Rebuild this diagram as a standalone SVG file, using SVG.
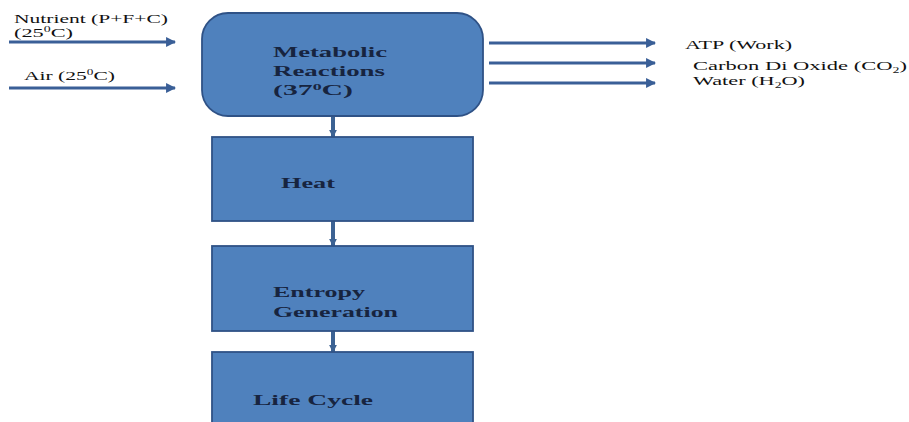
<svg xmlns="http://www.w3.org/2000/svg" width="909" height="422" viewBox="0 0 909 422">
<style>
.box{fill:#4f81bd;stroke:#2f5286;stroke-width:1.8}
.bt{font-family:"Liberation Serif","Times New Roman",serif;font-weight:bold;font-size:15px;fill:#17243f}
.ot{font-family:"Liberation Serif","Times New Roman",serif;font-size:13px;fill:#111}
.ar{stroke:#3a5f97;stroke-width:3;fill:none;marker-end:url(#ah)}
.vc{stroke:#3c6293;stroke-width:4;fill:none;marker-end:url(#vh)}
</style>
<defs>
<marker id="ah" viewBox="0 0 10 10" refX="9" refY="5" markerWidth="3.3" markerHeight="3.3" orient="auto" markerUnits="strokeWidth">
<path d="M0,0 L10,5 L0,10 Z" fill="#3a5f97"/>
</marker>
<marker id="vh" viewBox="0 0 10 10" refX="9" refY="5" markerWidth="2" markerHeight="2" orient="auto" markerUnits="strokeWidth">
<path d="M0,0 L10,5 L0,10 Z" fill="#3c6293"/>
</marker>
</defs>
<rect width="909" height="422" fill="#ffffff"/>
<g id="connectors">
<line class="ar" x1="9" y1="42" x2="175" y2="42"/>
<line class="ar" x1="9" y1="88" x2="175" y2="88"/>
<line class="ar" x1="489" y1="43" x2="655" y2="43"/>
<line class="ar" x1="489" y1="63" x2="655" y2="63"/>
<line class="ar" x1="489" y1="83" x2="655" y2="83"/>
<line class="vc" x1="333" y1="117" x2="333" y2="137"/>
<line class="vc" x1="333" y1="221" x2="333" y2="246"/>
<line class="vc" x1="333" y1="331" x2="333" y2="352"/>
</g>
<g id="inputs">
<text class="ot" x="14" y="23" textLength="154" lengthAdjust="spacingAndGlyphs">Nutrient (P+F+C)</text>
<text class="ot" x="14" y="37" textLength="59" lengthAdjust="spacingAndGlyphs">(25<tspan font-size="8" dy="-5">0</tspan><tspan dy="5">C)</tspan></text>
<text class="ot" x="24" y="80" textLength="91" lengthAdjust="spacingAndGlyphs">Air (25<tspan font-size="8" dy="-5">0</tspan><tspan dy="5">C)</tspan></text>
</g>
<g id="outputs">
<text class="ot" x="685" y="49" textLength="107" lengthAdjust="spacingAndGlyphs">ATP (Work)</text>
<text class="ot" x="693" y="70" textLength="214" lengthAdjust="spacingAndGlyphs">Carbon Di Oxide (CO<tspan font-size="8" dy="3">2</tspan><tspan dy="-3">)</tspan></text>
<text class="ot" x="693" y="85" textLength="112" lengthAdjust="spacingAndGlyphs">Water (H<tspan font-size="8" dy="3">2</tspan><tspan dy="-3">O)</tspan></text>
</g>
<g id="metabolic">
<rect class="box" x="202" y="13" width="281" height="103" rx="26" ry="26"/>
<text class="bt" x="273" y="57" textLength="114" lengthAdjust="spacingAndGlyphs">Metabolic</text>
<text class="bt" x="273" y="76" textLength="112" lengthAdjust="spacingAndGlyphs">Reactions</text>
<text class="bt" x="273" y="95" textLength="80" lengthAdjust="spacingAndGlyphs">(37<tspan font-size="9" dy="-5">0</tspan><tspan dy="5">C)</tspan></text>
</g>
<g id="heat">
<rect class="box" x="212" y="137" width="261" height="84"/>
<text class="bt" x="281" y="188" textLength="54" lengthAdjust="spacingAndGlyphs">Heat</text>
</g>
<g id="entropy">
<rect class="box" x="212" y="246" width="261" height="85"/>
<text class="bt" x="273" y="297" textLength="92" lengthAdjust="spacingAndGlyphs">Entropy</text>
<text class="bt" x="273" y="317" textLength="125" lengthAdjust="spacingAndGlyphs">Generation</text>
</g>
<g id="lifecycle">
<rect class="box" x="212" y="352" width="261" height="80"/>
<text class="bt" x="253" y="405" textLength="120" lengthAdjust="spacingAndGlyphs">Life Cycle</text>
</g>
</svg>
